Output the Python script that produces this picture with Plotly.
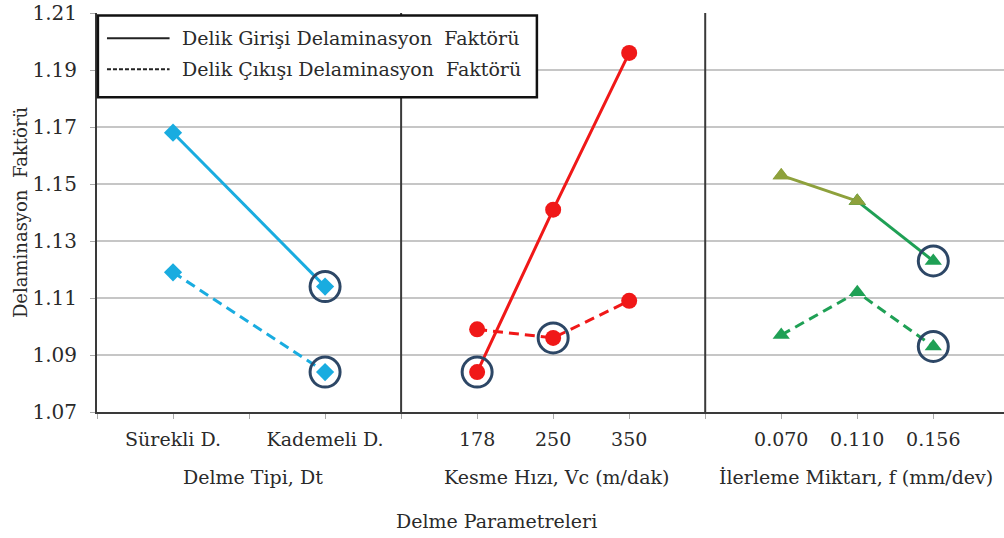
import plotly.graph_objects as go

# ---- data ----
dt_labels = ["Sürekli D.", "Kademeli D."]
dt_pos = [1, 3]
dt_giris = [1.168, 1.114]
dt_cikis = [1.119, 1.084]

vc_labels = ["178", "250", "350"]
vc_pos = [5, 6, 7]
vc_giris = [1.084, 1.141, 1.196]
vc_cikis = [1.099, 1.096, 1.109]

f_labels = ["0.070", "0.110", "0.156"]
f_pos = [9, 10, 11]
f_giris = [1.153, 1.144, 1.123]
f_cikis = [1.097, 1.112, 1.093]

# optimum points (circled)
opt_x = [3, 3, 5, 6, 11, 11]
opt_y = [dt_giris[1], dt_cikis[1], vc_giris[0], vc_cikis[1], f_giris[2], f_cikis[2]]

group_titles = ["Delme Tipi, Dt", "Kesme Hızı, Vc (m/dak)", "İlerleme Miktarı, f (mm/dev)"]
group_centers = [2.05, 6.05, 9.98]
dividers = [4, 8]
y_ticks = [1.07, 1.09, 1.11, 1.13, 1.15, 1.17, 1.19, 1.21]

CYAN = "#19ace0"
RED = "#f01818"
GREEN = "#1fa055"
OLIVE = "#8ea13c"
NAVY = "#2d4766"
FONT = "DejaVu Serif, Liberation Serif, serif"
TXT = "#2a2a2a"
DASH = "10px,6px"

fig = go.Figure()

def add(x, y, color, dash, symbol, size):
    fig.add_trace(go.Scatter(x=x, y=y, mode="lines+markers",
                             line=dict(color=color, width=3, dash=dash),
                             marker=dict(color=color, symbol=symbol, size=size),
                             showlegend=False))

# Delme tipi
add(dt_pos, dt_giris, CYAN, "solid", "diamond", 14)
add(dt_pos, dt_cikis, CYAN, DASH, "diamond", 14)
# Kesme hızı
add(vc_pos, vc_giris, RED, "solid", "circle", 16)
add(vc_pos, vc_cikis, RED, DASH, "circle", 16)
# İlerleme
add(f_pos[:2], f_giris[:2], OLIVE, "solid", "triangle-up", 15)
add(f_pos[1:], f_giris[1:], GREEN, "solid", "triangle-up", 15)
fig.add_trace(go.Scatter(x=f_pos[:2], y=f_giris[:2], mode="markers", showlegend=False,
                         marker=dict(color=OLIVE, symbol="triangle-up", size=15)))
add(f_pos, f_cikis, GREEN, DASH, "triangle-up", 15)

# highlight circles
fig.add_trace(go.Scatter(x=opt_x, y=opt_y, mode="markers", showlegend=False,
                         marker=dict(symbol="circle-open", size=30,
                                     line=dict(color=NAVY, width=3), color=NAVY)))

shapes = []
for d in dividers:
    shapes.append(dict(type="line", xref="x", yref="paper", x0=d, x1=d, y0=0, y1=1,
                       line=dict(color="#3a3a3a", width=2)))
# legend box
shapes.append(dict(type="rect", xref="paper", yref="paper", x0=0.001, x1=0.485,
                   y0=0.789, y1=0.994, fillcolor="white",
                   line=dict(color="#111111", width=2.5), layer="above"))
shapes.append(dict(type="line", xref="paper", yref="paper", x0=0.011, x1=0.080,
                   y0=0.937, y1=0.937, line=dict(color="#222", width=2), layer="above"))
shapes.append(dict(type="line", xref="paper", yref="paper", x0=0.011, x1=0.080,
                   y0=0.859, y1=0.859, line=dict(color="#222", width=2, dash="4px,2px"),
                   layer="above"))

annotations = [
    dict(text="Delik Girişi Delaminasyon&nbsp; Faktörü", xref="paper", yref="paper",
         x=0.0915, y=0.937, xanchor="left", yanchor="middle", showarrow=False,
         font=dict(family=FONT, size=19, color=TXT)),
    dict(text="Delik Çıkışı Delaminasyon&nbsp; Faktörü", xref="paper", yref="paper",
         x=0.0915, y=0.859, xanchor="left", yanchor="middle", showarrow=False,
         font=dict(family=FONT, size=19, color=TXT)),
    dict(text="Delme Parametreleri", xref="paper", yref="paper",
         x=0.44, y=-0.274, xanchor="center", yanchor="middle", showarrow=False,
         font=dict(family=FONT, size=19, color=TXT)),
]
for t, c in zip(group_titles, group_centers):
    annotations.append(dict(text=t, xref="x", yref="paper", x=c, y=-0.163,
                            xanchor="center", yanchor="middle", showarrow=False,
                            font=dict(family=FONT, size=19, color=TXT)))

fig.update_layout(
    width=1004, height=538,
    margin=dict(l=97, r=0, t=13, b=126),
    paper_bgcolor="white", plot_bgcolor="white",
    shapes=shapes, annotations=annotations,
    font=dict(family=FONT, size=19, color=TXT),
    xaxis=dict(range=[0, 11.93], tickvals=dt_pos + vc_pos + f_pos,
               ticktext=dt_labels + vc_labels + f_labels, automargin=False,
               showgrid=False, zeroline=False, showline=True,
               linecolor="#3a3a3a", linewidth=2, ticks="outside", ticklen=5,
               tickcolor="#aaa", ticklabelstandoff=4,
               tickfont=dict(family=FONT, size=19, color=TXT),
               minor=dict(tickvals=list(range(0, 12)), ticks="outside", ticklen=5,
                          tickcolor="#aaa", showgrid=False)),
    yaxis=dict(range=[1.07, 1.21], tickvals=y_ticks, tickformat=".2f", automargin=False,
               showgrid=True, gridcolor="#c6c6c6", gridwidth=1.5, zeroline=False,
               showline=True, linecolor="#3a3a3a", linewidth=2,
               ticks="outside", ticklen=5, tickcolor="#aaa", ticklabelstandoff=9,
               ticklabeloverflow="allow",
               tickfont=dict(family=FONT, size=20, color=TXT),
               title=dict(text="Delaminasyon&nbsp; Faktörü", standoff=0,
                          font=dict(family=FONT, size=18, color=TXT))),
)

# remove the default 8px page margin so the figure fills the window exactly
fig.write_html("out.html", config={"displayModeBar": False},
               post_script="document.body.style.margin='0';")
